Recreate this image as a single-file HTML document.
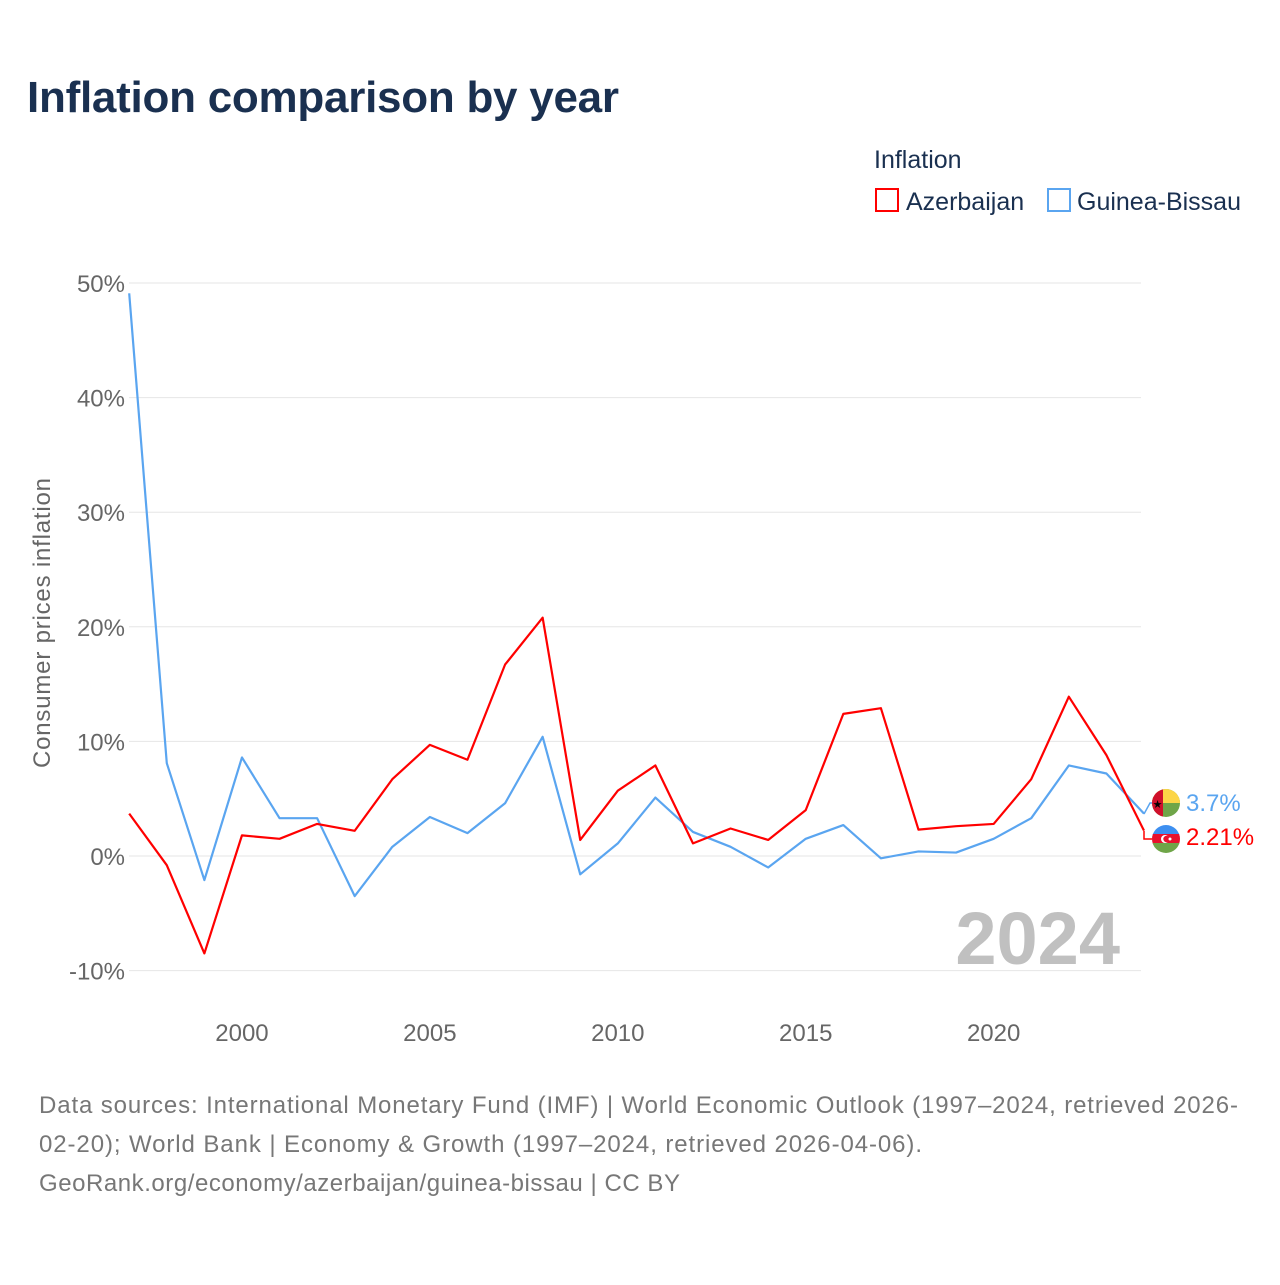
<!DOCTYPE html>
<html><head><meta charset="utf-8"><style>
body{margin:0;background:#fff;font-family:"Liberation Sans",sans-serif}
</style></head><body>
<svg id="c" width="1280" height="1280" xmlns="http://www.w3.org/2000/svg" font-family="Liberation Sans, sans-serif">
<rect width="1280" height="1280" fill="#fff"/>
<text x="27" y="112" font-size="44" font-weight="bold" fill="#1a3050" textLength="592">Inflation comparison by year</text>
<text x="874" y="168" font-size="25" fill="#1a3050">Inflation</text>
<g><rect x="876" y="189" width="22" height="22" fill="none" stroke="#f00" stroke-width="2"/><text x="906" y="210" font-size="25" fill="#1a3050">Azerbaijan</text></g>
<g><rect x="1048" y="189" width="22" height="22" fill="none" stroke="#5aa5f0" stroke-width="2"/><text x="1077" y="210" font-size="25" fill="#1a3050">Guinea-Bissau</text></g>
<text transform="translate(50,623) rotate(-90)" text-anchor="middle" font-size="24" fill="#666" textLength="290">Consumer prices inflation</text>
<g id="grid"></g><g id="xt"></g><g id="lines"></g>
<text x="1120" y="964" text-anchor="end" font-size="74" font-weight="bold" fill="#c0c0c0">2024</text>
<g>
<polyline points="1144,814 1150,803 1152,803" fill="none" stroke="#5aa5f0" stroke-width="1.5"/>
<polyline points="1144,831 1144,839 1152,839" fill="none" stroke="#f00" stroke-width="1.5"/>
<g><clipPath id="cg"><circle cx="1166" cy="803" r="14"/></clipPath><g clip-path="url(#cg)"><rect x="1152" y="789" width="28" height="28" fill="#6fa548"/><rect x="1152" y="789" width="28" height="14" fill="#fcd547"/><rect x="1152" y="789" width="11" height="28" fill="#d0102b"/></g><text x="1157.5" y="808" font-size="11" text-anchor="middle">★</text></g>
<g><clipPath id="ca"><circle cx="1166" cy="839" r="14"/></clipPath><g clip-path="url(#ca)"><rect x="1152" y="825" width="28" height="10" fill="#3d8ff0"/><rect x="1152" y="834" width="28" height="10" fill="#e8112d"/><rect x="1152" y="843" width="28" height="10" fill="#6fa548"/><circle cx="1165" cy="839" r="4" fill="#fff"/><circle cx="1166.5" cy="839" r="3.2" fill="#e8112d"/><circle cx="1170" cy="839" r="1.5" fill="#fff"/></g></g>
<text x="1186" y="811" font-size="24" fill="#5aa5f0">3.7%</text>
<text x="1186" y="845" font-size="24" fill="#f00">2.21%</text>
</g>
<g font-size="24" fill="#777">
<text x="39" y="1113" textLength="1199">Data sources: International Monetary Fund (IMF) | World Economic Outlook (1997–2024, retrieved 2026-</text>
<text x="39" y="1152" textLength="883">02-20); World Bank | Economy &amp; Growth (1997–2024, retrieved 2026-04-06).</text>
<text x="39" y="1191" textLength="641">GeoRank.org/economy/azerbaijan/guinea-bissau | CC BY</text>
</g>
</svg>
<script>
const years=[1997,1998,1999,2000,2001,2002,2003,2004,2005,2006,2007,2008,2009,2010,2011,2012,2013,2014,2015,2016,2017,2018,2019,2020,2021,2022,2023,2024];
const azerbaijan=[3.7,-0.8,-8.5,1.8,1.5,2.8,2.2,6.7,9.7,8.4,16.7,20.8,1.4,5.7,7.9,1.1,2.4,1.4,4.0,12.4,12.9,2.3,2.6,2.8,6.7,13.9,8.8,2.21];
const guineaBissau=[49.1,8.1,-2.1,8.6,3.3,3.3,-3.5,0.8,3.4,2.0,4.6,10.4,-1.6,1.1,5.1,2.1,0.8,-1.0,1.5,2.7,-0.2,0.4,0.3,1.5,3.3,7.9,7.2,3.7];
const yTicks=[-10,0,10,20,30,40,50];
const xTicks=[2000,2005,2010,2015,2020];
const NS="http://www.w3.org/2000/svg";
const x=v=>129.2+(v-1997)*(1144-129.2)/27;
const y=v=>856-v*11.46;
function mk(t,a,p){const e=document.createElementNS(NS,t);for(const k in a)e.setAttribute(k,a[k]);p.appendChild(e);return e;}
const g=document.getElementById('grid');
yTicks.forEach(t=>{
 const l=mk('line',{x1:129,x2:1141,y1:y(t),y2:y(t),stroke:'#e6e6e6','stroke-width':1},g);
 
 
 const tx=mk('text',{x:125,y:y(t)+9,'text-anchor':'end','font-size':24,fill:'#666'},g);
 
 
 tx.textContent=t+'%';
});
const xt=document.getElementById('xt');
xTicks.forEach(t=>{
 const tx=mk('text',{x:x(t),y:1041,'text-anchor':'middle','font-size':24,fill:'#666'},xt);
 
 
 tx.textContent=t;
});
const L=document.getElementById('lines');
[[guineaBissau,'#5aa5f0','line-guinea-bissau'],[azerbaijan,'#f00','line-azerbaijan']].forEach(([d,c,n])=>{
 const p=mk('polyline',{points:d.map((v,i)=>x(years[i])+','+y(v)).join(' '),fill:'none',stroke:c,'stroke-width':2.2,'stroke-linejoin':'round'},L);
 
 
});
</script>
</body></html>
